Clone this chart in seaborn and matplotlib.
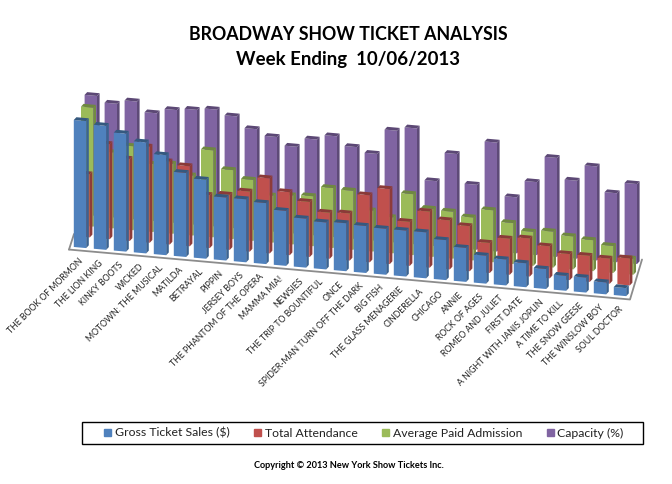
import matplotlib
matplotlib.use("Agg")
import matplotlib.pyplot as plt
import seaborn as sns
from matplotlib.patches import Polygon, Patch, Rectangle
from matplotlib.transforms import Affine2D

shows = ["THE BOOK OF MORMON", "THE LION KING", "KINKY BOOTS", "WICKED", "MOTOWN: THE MUSICAL",
         "MATILDA", "BETRAYAL", "PIPPIN", "JERSEY BOYS", "THE PHANTOM OF THE OPERA", "MAMMA MIA!",
         "NEWSIES", "THE TRIP TO BOUNTIFUL", "ONCE", "SPIDER-MAN TURN OFF THE DARK", "BIG FISH",
         "THE GLASS MENAGERIE", "CINDERELLA", "CHICAGO", "ANNIE", "ROCK OF AGES", "ROMEO AND JULIET",
         "FIRST DATE", "A NIGHT WITH JANIS JOPLIN", "A TIME TO KILL", "THE SNOW GEESE",
         "THE WINSLOW BOY", "SOUL DOCTOR"]

# heights, no value axis in the original
gross = [127, 124, 118, 111, 100, 84, 79, 63, 63, 61, 55, 49, 47, 48,
         47, 46, 46, 46, 40, 34, 28, 26, 24, 20, 15, 15, 12, 8]
attendance = [63, 95, 82, 96, 83, 80, 53, 55, 60, 75, 63, 55, 46, 47,
              67, 75, 44, 56, 49, 45, 30, 36, 38, 32, 26, 26, 25, 27]
admission = [119, 76, 84, 68, 70, 60, 87, 69, 61, 47, 49, 50, 60, 59,
             41, 36, 61, 48, 47, 43, 52, 41, 34, 36, 33, 31, 27, 16]
capacity = [120, 114, 118, 108, 113, 115, 117, 112, 101, 95, 87, 96, 101, 92,
            87, 112, 116, 65, 94, 65, 109, 56, 73, 99, 78, 94, 69, 80]

series = [("Gross Ticket Sales ($)", gross, "#4F81BD", "#3A6391", "#35597F"),
          ("Total Attendance", attendance, "#C0504D", "#8E3B39", "#8A3A38"),
          ("Average Paid Admission", admission, "#9BBB59", "#738C42", "#6F8840"),
          ("Capacity (%)", capacity, "#8064A2", "#5E4A78", "#5C4875")]

sns.set_theme(style="white")
plt.rcParams["font.family"] = ["Lato", "DejaVu Sans"]

fig, ax = plt.subplots(figsize=(6.72, 4.84), dpi=100)
ax.set_position([0, 0, 1, 1])


def row_transform(s):
    # each row sits further back, and the floor runs downhill to the right
    return Affine2D.from_values(1, -1.78, 0, 1, 0.18 * s, -0.534 + 10.7 * s) + ax.transData


# back row first so the front rows cover it
for s in [3, 2, 1, 0]:
    name, vals, col, side, top = series[s]
    sns.barplot(x=shows, y=vals, color=col, saturation=1, width=0.62, linewidth=0, ax=ax)
    tr = row_transform(s)
    for bar in ax.containers[-1]:
        bar.set_transform(tr)
        bar.set_zorder(10 - s)
        x0, w, h = bar.get_x(), bar.get_width(), bar.get_height()
        dx, dy = 0.13, 3
        ax.add_patch(Polygon([(x0 + w, 0), (x0 + w, h), (x0 + w + dx, h + dy), (x0 + w + dx, dy)],
                             fc=side, ec="none", transform=tr, zorder=10 - s))
        ax.add_patch(Polygon([(x0, h), (x0 + w, h), (x0 + w + dx, h + dy), (x0 + dx, h + dy)],
                             fc=top, ec="none", transform=tr, zorder=10 - s))

ax.set_xlim(-4, 29.6)
ax.set_ylim(-237, 247)
ax.axis("off")

# floor edges
floor = row_transform(0)
ax.plot([-0.55, 27.5, 28.1], [-3, -3, 38], color="#8C8C8C", lw=1.3, transform=floor, zorder=2)
ax.plot([-0.55, -0.3], [-3, 13], color="#8C8C8C", lw=1.3, transform=floor, zorder=2)

for i, show in enumerate(shows):
    ax.text(i + 0.1, -12, show, transform=floor, rotation=45, rotation_mode="anchor",
            ha="right", va="center", fontsize=6.35, color="#222222")

fig.text(348 / 672, 1 - 35 / 484, "BROADWAY SHOW TICKET ANALYSIS", ha="center", va="center",
         fontsize=12.8, fontweight="bold", color="black")
fig.text(348 / 672, 1 - 60 / 484, "Week Ending  10/06/2013", ha="center", va="center",
         fontsize=13.4, fontweight="bold", color="black")

# legend box drawn apart, the original has more room left and right than a legend frame gives
fig.add_artist(Rectangle((81.5 / 672, 1 - 444 / 484), 561 / 672, 22.5 / 484, transform=fig.transFigure,
                         fc="white", ec="black", lw=1.0))
handles = [Patch(color=c[2], label=c[0]) for c in series]
leg = fig.legend(handles=handles, ncol=4, loc="center", bbox_to_anchor=(364 / 672, 1 - 433 / 484),
                 fontsize=8.8, frameon=False, handlelength=0.57, handleheight=0.57,
                 handletextpad=0.3, columnspacing=2.0, borderpad=0, labelcolor="#222222")

fig.text(349 / 672, 1 - 466 / 484, "Copyright © 2013 New York Show Tickets Inc.", ha="center", va="center",
         fontsize=6.6, fontweight="bold", color="black")

plt.savefig("out.png", dpi=100)
